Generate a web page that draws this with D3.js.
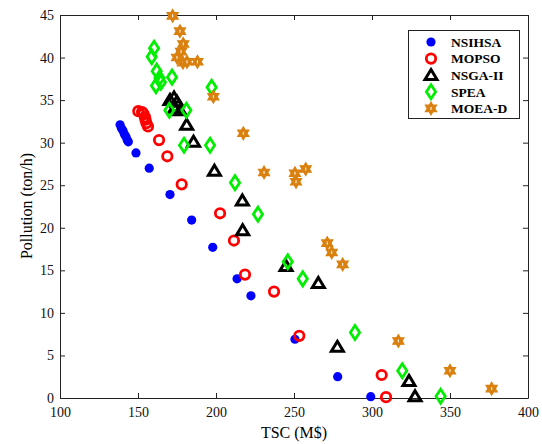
<!DOCTYPE html>
<html>
<head>
<meta charset="utf-8">
<script src="https://cdn.jsdelivr.net/npm/d3@7"></script>
<style>
  body { margin: 0; background: #fff; }
  svg text { font-family: "Liberation Serif", "Times New Roman", serif; }
</style>
</head>
<body>
<svg id="chart" width="542" height="444"></svg>
<script>
// series values: TSC (M$) and Pollution (ton/h)
const nsihsaTSC = [138.5, 139.4, 140.4, 141.3, 142.3, 143.1, 143.8, 148.7, 157.2, 170.5, 184.4, 197.9, 213.5, 222.4, 250.6, 278.0, 299.2];
const nsihsaPol = [32.1, 31.7, 31.4, 31.0, 30.7, 30.3, 30.1, 28.8, 27.0, 23.9, 20.9, 17.7, 14.0, 12.0, 6.9, 2.5, 0.15];

const mopsoTSC = [150.2, 152.6, 153.5, 154.5, 154.8, 155.4, 156.4, 163.5, 168.8, 178.0, 202.6, 211.5, 218.6, 237.2, 253.4, 306.2, 309.0];
const mopsoPol = [33.7, 33.6, 33.4, 33.0, 32.7, 32.3, 31.9, 30.3, 28.4, 25.1, 21.7, 18.5, 14.5, 12.5, 7.3, 2.7, 0.1];

const nsgaTSC = [170.5, 173.1, 175.0, 173.7, 176.9, 181.2, 185.6, 199.0, 216.9, 217.1, 244.9, 265.6, 277.8, 323.7, 327.6];
const nsgaPol = [35.0, 35.3, 34.8, 34.1, 33.8, 32.1, 30.1, 26.7, 23.2, 19.7, 15.5, 13.5, 6.0, 2.0, 0.2];

const speaTSC = [160.3, 158.8, 162.0, 163.8, 161.5, 164.7, 171.8, 197.2, 170.1, 181.0, 179.5, 196.2, 212.2, 226.9, 246.0, 255.6, 289.1, 319.4, 344.0];
const speaPol = [41.1, 40.1, 38.4, 37.6, 36.7, 37.1, 37.7, 36.5, 33.8, 33.8, 29.7, 29.7, 25.3, 21.6, 16.0, 14.0, 7.7, 3.2, 0.2];

const moeadTSC = [172.2, 176.9, 179.0, 177.6, 175.0, 178.8, 181.4, 188.1, 198.3, 217.5, 230.8, 250.6, 251.3, 257.5, 271.3, 274.2, 281.2, 316.9, 350.0, 376.7];
const moeadPol = [44.9, 43.1, 41.6, 40.7, 40.0, 39.4, 39.5, 39.5, 35.4, 31.1, 26.5, 26.4, 25.4, 26.9, 18.2, 17.1, 15.7, 6.7, 3.2, 1.1];

const seriesNames = ["NSIHSA", "MOPSO", "NSGA-II", "SPEA", "MOEA-D"];
const xTicks = [100, 150, 200, 250, 300, 350, 400];
const yTicks = [0, 5, 10, 15, 20, 25, 30, 35, 40, 45];

// marker shapes (MATLAB-like)
function circlePath(r) {
    return `M${r},0A${r},${r},0,1,1,${-r},0A${r},${r},0,1,1,${r},0Z`;
}
function trianglePath() {
    return "M0,-5.6L6,4.4L-6,4.4Z";
}
function diamondPath() {
    return "M0,-7L4.6,0L0,7L-4.6,0Z";
}
function hexagramPath(R) {
    const r = R / Math.sqrt(3);
    let p = "";
    for (let i = 0; i < 12; i++) {
        const a = -Math.PI / 2 + i * Math.PI / 6;
        const rad = i % 2 === 0 ? R : r;
        p += (i === 0 ? "M" : "L") + (rad * Math.cos(a)).toFixed(2) + "," + (rad * Math.sin(a)).toFixed(2);
    }
    return p + "Z";
}

const orange = "#d9800f";
const styles = [
    { d: circlePath(4.6), fill: "#0000ff", stroke: "none", sw: 0 },
    { d: circlePath(4.7), fill: "none", stroke: "#ff0000", sw: 2.8 },
    { d: trianglePath(), fill: "none", stroke: "#000000", sw: 3 },
    { d: diamondPath(), fill: "none", stroke: "#00ee00", sw: 2.8 },
    { d: hexagramPath(6.4), fill: orange, stroke: orange, sw: 1.2, dot: true }
];

const seriesData = [
    d3.zip(nsihsaTSC, nsihsaPol),
    d3.zip(mopsoTSC, mopsoPol),
    d3.zip(nsgaTSC, nsgaPol),
    d3.zip(speaTSC, speaPol),
    d3.zip(moeadTSC, moeadPol)
];

const svg = d3.select("#chart");
const x = d3.scaleLinear().domain([100, 400]).range([60, 528]);
const y = d3.scaleLinear().domain([0, 45]).range([398, 15]);

// axes, ticks pointing inward on all four sides
svg.append("g")
    .attr("transform", "translate(0,398)")
    .call(d3.axisBottom(x).tickValues(xTicks).tickSize(-5).tickPadding(9).tickSizeOuter(0))
    .call(g => g.selectAll("text").attr("font-size", "14px").attr("fill", "#111"));
svg.append("g")
    .attr("transform", "translate(0,15)")
    .call(d3.axisTop(x).tickValues(xTicks).tickSize(-5).tickFormat("").tickSizeOuter(0));
svg.append("g")
    .attr("transform", "translate(60,0)")
    .call(d3.axisLeft(y).tickValues(yTicks).tickSize(-5).tickPadding(6).tickSizeOuter(0))
    .call(g => g.selectAll("text").attr("font-size", "14px").attr("fill", "#111"));
svg.append("g")
    .attr("transform", "translate(528,0)")
    .call(d3.axisRight(y).tickValues(yTicks).tickSize(-5).tickFormat("").tickSizeOuter(0));
svg.selectAll(".domain").attr("stroke", "#222");
svg.selectAll(".tick line").attr("stroke", "#222");

// axis titles
svg.append("text")
    .attr("x", 294).attr("y", 438)
    .attr("text-anchor", "middle")
    .attr("font-size", "16px")
    .text("TSC (M$)");
svg.append("text")
    .attr("transform", "translate(32,206) rotate(-90)")
    .attr("text-anchor", "middle")
    .attr("font-size", "16px")
    .text("Pollution (ton/h)");

function drawMarker(g, s) {
    g.append("path")
        .attr("d", s.d)
        .attr("fill", s.fill)
        .attr("stroke", s.stroke)
        .attr("stroke-width", s.sw)
        .attr("stroke-linejoin", "miter");
    if (s.dot) {
        g.append("rect")
            .attr("x", -0.5).attr("y", -1.5)
            .attr("width", 1).attr("height", 3)
            .attr("fill", "#fff");
    }
}

// markers
seriesData.forEach((pts, i) => {
    const s = styles[i];
    svg.append("g").selectAll("g")
        .data(pts)
        .enter().append("g")
        .attr("transform", d => `translate(${x(d[0])},${y(d[1])})`)
        .each(function() { drawMarker(d3.select(this), s); });
});

// legend
const legend = svg.append("g");
legend.append("rect")
    .attr("x", 408.5).attr("y", 30.5)
    .attr("width", 111).attr("height", 88)
    .attr("fill", "#fff").attr("stroke", "#222");
seriesNames.forEach((name, i) => {
    const ly = 42 + i * 16.6;
    const g = legend.append("g").attr("transform", `translate(431,${ly})`);
    drawMarker(g, styles[i]);
    legend.append("text")
        .attr("x", 451).attr("y", ly + 4.8)
        .attr("font-size", "13.5px")
        .attr("font-weight", "bold")
        .text(name);
});
</script>
</body>
</html>
